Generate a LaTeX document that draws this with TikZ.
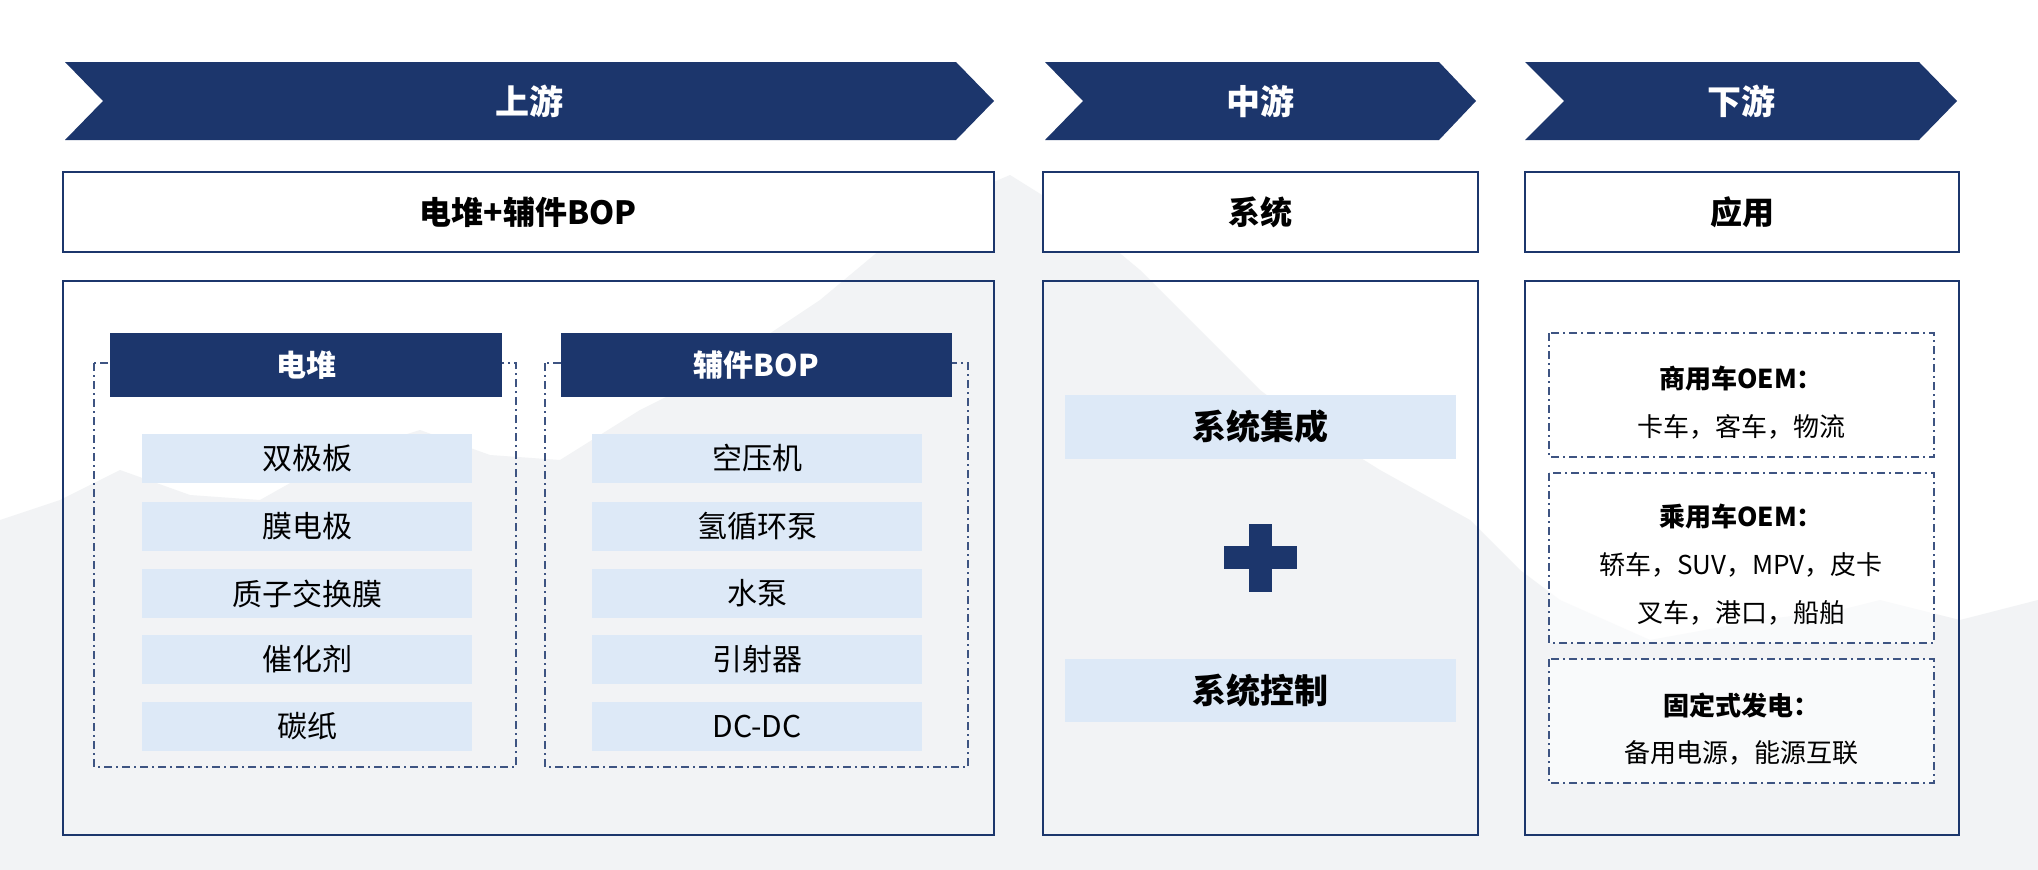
\documentclass[tikz,border=0pt]{standalone}
\usepackage{fontspec}
\setmainfont{Noto Sans CJK SC}
\usetikzlibrary{positioning}
\definecolor{navy}{HTML}{1C366C}
\definecolor{lightblue}{HTML}{DDE9F7}
\definecolor{mount}{HTML}{F2F3F5}
\tikzset{
  hdrtext/.style={text=white,font=\fontsize{34}{40}\selectfont\bfseries},
  subhdr/.style={draw=navy,line width=2pt},
  mainbox/.style={draw=navy,line width=2pt},
  dashbox/.style={draw=navy!85,line width=1.6pt,dash pattern=on 8pt off 4pt on 2pt off 4pt},
  titlebar/.style={fill=navy,draw=none,text=white,font=\fontsize{30}{36}\selectfont\bfseries},
  itembox/.style={fill=lightblue,draw=none,font=\fontsize{30}{34}\selectfont},
  bigitem/.style={fill=lightblue,draw=none,font=\fontsize{34}{40}\selectfont\bfseries},
  subhdrtext/.style={font=\fontsize{32}{38}\selectfont\bfseries},
  apptitle/.style={font=\fontsize{26}{30}\selectfont\bfseries},
  apptext/.style={font=\fontsize{26}{30}\selectfont},
}
\begin{document}
\begin{tikzpicture}[x=1pt,y=-1pt]
\useasboundingbox (0,0) rectangle (2038,870);
\fill[white] (0,0) rectangle (2038,870);
% faint mountain background
\fill[mount] (0,520) -- (60,500) -- (120,470) -- (190,495) -- (260,500) -- (340,455) -- (420,430)
  -- (490,455) -- (560,460) -- (640,410) -- (700,380) -- (760,340)
  -- (820,300) -- (880,250) -- (930,220) -- (975,190) -- (1010,175) -- (1050,200) -- (1080,220)
  -- (1140,270) -- (1210,340) -- (1260,390)
  -- (1300,420) -- (1380,470) -- (1470,520) -- (1520,570) -- (1560,600) -- (1650,640) -- (1760,620)
  -- (1840,610) -- (1880,600) -- (1960,620) -- (2038,600) -- (2038,870) -- (0,870) -- cycle;

% ---- chevron headers
\fill[navy] (65,62) -- (956,62) -- (994,101) -- (956,140) -- (65,140) -- (103,101) -- cycle;
\fill[navy] (1045,62) -- (1439,62) -- (1476,101) -- (1439,140) -- (1045,140) -- (1083,101) -- cycle;
\fill[navy] (1525,62) -- (1919,62) -- (1957,101) -- (1919,140) -- (1525,140) -- (1564,101) -- cycle;
\node[hdrtext] (up) at (529,101) {上游};
\node[hdrtext] (mid) at (1260,101) {中游};
\node[hdrtext] (down) at (1741,101) {下游};

% ---- sub headers
\draw[subhdr,fill=white] (63,172) rectangle (994,252);
\draw[subhdr,fill=white] (1043,172) rectangle (1478,252);
\draw[subhdr,fill=white] (1525,172) rectangle (1959,252);
\node[subhdrtext] (s1) at (528,212) {电堆+辅件BOP};
\node[subhdrtext] (s2) at (1260,212) {系统};
\node[subhdrtext] (s3) at (1742,212) {应用};

% ---- main boxes
\draw[mainbox] (63,281) rectangle (994,835);
\draw[mainbox] (1043,281) rectangle (1478,835);
\draw[mainbox] (1525,281) rectangle (1959,835);

% ---- upstream: stack
\draw[dashbox] (94,363) rectangle (516,767);
\node[titlebar,minimum width=392pt,minimum height=64pt,inner sep=0pt] (stack) at (306,365) {电堆};
\foreach \y/\t [count=\i] in {458/双极板,526/膜电极,593.5/质子交换膜,659/催化剂,726.5/碳纸}{
  \node[itembox,minimum width=330pt,minimum height=49pt,inner sep=0pt] (st\i) at (307,\y) {\t};
}
% ---- upstream: BOP
\draw[dashbox] (545,363) rectangle (968,767);
\node[titlebar,minimum width=391pt,minimum height=64pt,inner sep=0pt] (bop) at (756.5,365) {辅件BOP};
\foreach \y/\t [count=\i] in {458/空压机,526/氢循环泵,593.5/水泵,659/引射器,726.5/DC-DC}{
  \node[itembox,minimum width=330pt,minimum height=49pt,inner sep=0pt] (bp\i) at (757,\y) {\t};
}

% ---- midstream
\node[bigitem,minimum width=391pt,minimum height=64pt,inner sep=0pt] (si) at (1260.5,427) {系统集成};
\node[bigitem,minimum width=391pt,minimum height=63pt,inner sep=0pt] (sc) at (1260.5,690.5) {系统控制};
\fill[navy] (1224,546) rectangle (1297,569);
\fill[navy] (1249,524) rectangle (1272,592);

% ---- downstream
\draw[dashbox,fill=white,fill opacity=0.6] (1549,333) rectangle (1934,457);
\draw[dashbox,fill=white,fill opacity=0.6] (1549,473) rectangle (1934,643);
\draw[dashbox,fill=white,fill opacity=0.6] (1549,659) rectangle (1934,783);
\node[apptitle] (a1) at (1741,379) {商用车OEM：};
\node[apptext] (a1t) at (1741,427) {卡车，客车，物流};
\node[apptitle] (a2) at (1741,517) {乘用车OEM：};
\node[apptext] (a2t) at (1741,565) {轿车，SUV，MPV，皮卡};
\node[apptext] (a2u) at (1741,613) {叉车，港口，船舶};
\node[apptitle] (a3) at (1741,705) {固定式发电：};
\node[apptext] (a3t) at (1741,753) {备用电源，能源互联};
\end{tikzpicture}
\end{document}
